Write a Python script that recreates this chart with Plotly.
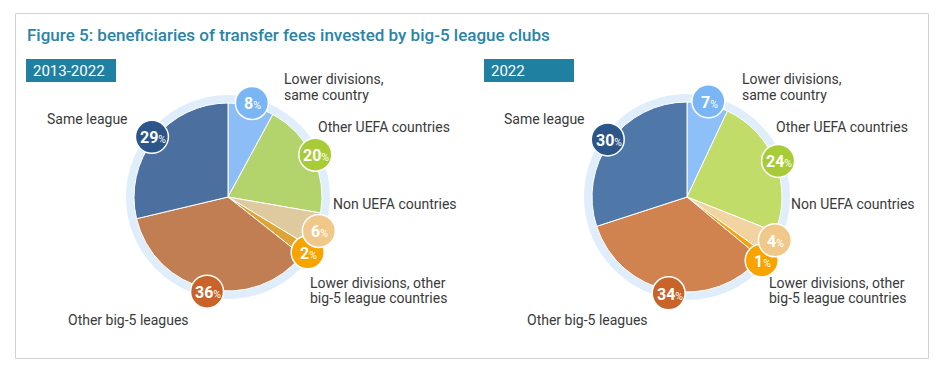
import math
import plotly.graph_objects as go

# ---------------- data ----------------
categories = [
    "Lower divisions, same country",
    "Other UEFA countries",
    "Non UEFA countries",
    "Lower divisions, other big-5 league countries",
    "Other big-5 leagues",
    "Same league",
]
values_2013_2022 = [8, 20, 6, 2, 36, 29]
values_2022 = [7, 24, 4, 1, 34, 30]
panel_titles = ["2013-2022", "2022"]
chart_title = "Figure 5: beneficiaries of transfer fees invested by big-5 league clubs"

# label lines per category (display text)
label_lines = [
    ["Lower divisions,", "same country"],
    ["Other UEFA countries"],
    ["Non UEFA countries"],
    ["Lower divisions, other", "big-5 league countries"],
    ["Other big-5 leagues"],
    ["Same league"],
]

# ---------------- styles ----------------
W, H = 945, 376
PAGE_OFFSET = 8  # default body margin of the html page
slice_colors_1 = ["#8cbdf6", "#b3d36c", "#dfcaa0", "#e0a435", "#c07e52", "#4b70a0"]
slice_colors_2 = ["#8dc0f9", "#c1dc68", "#f1d4a2", "#f7a20a", "#d0824f", "#4f77a7"]
badge_colors = ["#7ab5f4", "#a8cc38", "#f0c98a", "#f7a300", "#c8642a", "#2c5589"]
halo_color = "#e0eefc"
title_color = "#2a84a8"
box_color = "#1f80a2"
text_color = "#3a3a3a"
FONT = "Roboto"

panels = [
    dict(values=values_2013_2022, colors=slice_colors_1, cx=228, cy=197, r=94,
         title=panel_titles[0], box=(26, 116)),
    dict(values=values_2022, colors=slice_colors_2, cx=687, cy=197, r=95,
         title=panel_titles[1], box=(484, 574)),
]
# label anchor offsets (left x, centre y) relative to pie centre
label_offsets_1 = [(54, -110), (88, -70), (103, 7), (80, 93), (-162, 123), (-183, -78)]
label_offsets_2 = [(53, -110), (87, -70), (102, 7), (80, 93), (-162, 123), (-185, -78)]
line_gap = 15
MIN_BADGE_GAP = 24


def px(x):
    return (x - PAGE_OFFSET) / W


def py(y):
    return 1 - (y - PAGE_OFFSET) / H


fig = go.Figure()
shapes = []
annotations = []

# outer border
shapes.append(dict(type="rect", xref="paper", yref="paper",
                   x0=px(15.5), x1=px(928.5), y0=py(358.5), y1=py(13.5),
                   line=dict(color="#d2d2d2", width=1), layer="below"))

# chart title
annotations.append(dict(text=chart_title, x=px(25), y=py(35), xref="paper", yref="paper",
                        xanchor="left", yanchor="middle", showarrow=False,
                        font=dict(family=FONT, size=17, color=title_color, weight=500)))

for i, p in enumerate(panels):
    cx, cy, r = p["cx"], p["cy"], p["r"]
    vals = p["values"]
    total = sum(vals)
    halo_r = r + 8

    # halo disc
    fig.add_trace(go.Pie(
        values=[1], labels=["halo"], marker=dict(colors=[halo_color], line=dict(width=0)),
        textinfo="none", hoverinfo="skip", showlegend=False, sort=False,
        domain=dict(x=[px(cx - halo_r), px(cx + halo_r)], y=[py(cy + halo_r), py(cy - halo_r)]),
    ))
    # main pie
    fig.add_trace(go.Pie(
        values=vals, labels=categories,
        marker=dict(colors=p["colors"], line=dict(color="white", width=1)),
        textinfo="none", hoverinfo="label+value", showlegend=False, sort=False,
        direction="clockwise", rotation=0,
        domain=dict(x=[px(cx - r), px(cx + r)], y=[py(cy + r), py(cy - r)]),
    ))

    # panel header box
    bx0, bx1 = p["box"]
    shapes.append(dict(type="rect", xref="paper", yref="paper",
                       x0=px(bx0), x1=px(bx1), y0=py(82), y1=py(59),
                       fillcolor=box_color, line=dict(width=0), layer="above"))
    annotations.append(dict(text=p["title"], x=px(bx0 + 5), y=py(71), xref="paper", yref="paper",
                            xanchor="left", yanchor="middle", showarrow=False,
                            font=dict(family=FONT, size=15, color="white")))

    # badges at slice mid-angles, nudged apart when they would collide
    rb = r + 3
    cum = 0
    mids = []
    for v in vals:
        mids.append((cum + v / 2) / total * 2 * math.pi)
        cum += v
    min_dth = 2 * math.asin(MIN_BADGE_GAP / 2 / rb)
    for _ in range(20):
        for k in range(len(mids) - 1):
            d = mids[k + 1] - mids[k]
            if d < min_dth:
                c = (mids[k + 1] + mids[k]) / 2
                mids[k] = c - min_dth / 2
                mids[k + 1] = c + min_dth / 2
    for k in reversed(range(len(vals))):
        th = mids[k]
        bx = cx + rb * math.sin(th)
        by = cy - rb * math.cos(th)
        shapes.append(dict(type="circle", xref="paper", yref="paper",
                           xsizemode="pixel", ysizemode="pixel",
                           xanchor=px(bx), yanchor=py(by),
                           x0=-16.5, x1=16.5, y0=-16.5, y1=16.5,
                           fillcolor=badge_colors[k], line=dict(color="white", width=1.5),
                           layer="above"))
        annotations.append(dict(
            text=f"<b>{vals[k]}</b><span style='font-size:10.5px'>%</span>",
            x=px(bx + 1), y=py(by + 1), xref="paper", yref="paper",
            xanchor="center", yanchor="middle", showarrow=False,
            font=dict(family=FONT, size=16, color="white")))

    # category labels
    offs = label_offsets_1 if i == 0 else label_offsets_2
    for k, lines in enumerate(label_lines):
        ox, oy = offs[k]
        for j, line in enumerate(lines):
            annotations.append(dict(
                text=line, x=px(cx + ox), y=py(cy + oy - (len(lines) - 1) * line_gap / 2 + j * line_gap),
                xref="paper", yref="paper", xanchor="left", yanchor="middle", showarrow=False,
                font=dict(family=FONT, size=14, color=text_color)))

fig.update_layout(
    width=W, height=H,
    margin=dict(l=0, r=0, t=0, b=0),
    paper_bgcolor="white", plot_bgcolor="white",
    shapes=shapes, annotations=annotations,
    showlegend=False,
)

fig.write_html("out.html")
